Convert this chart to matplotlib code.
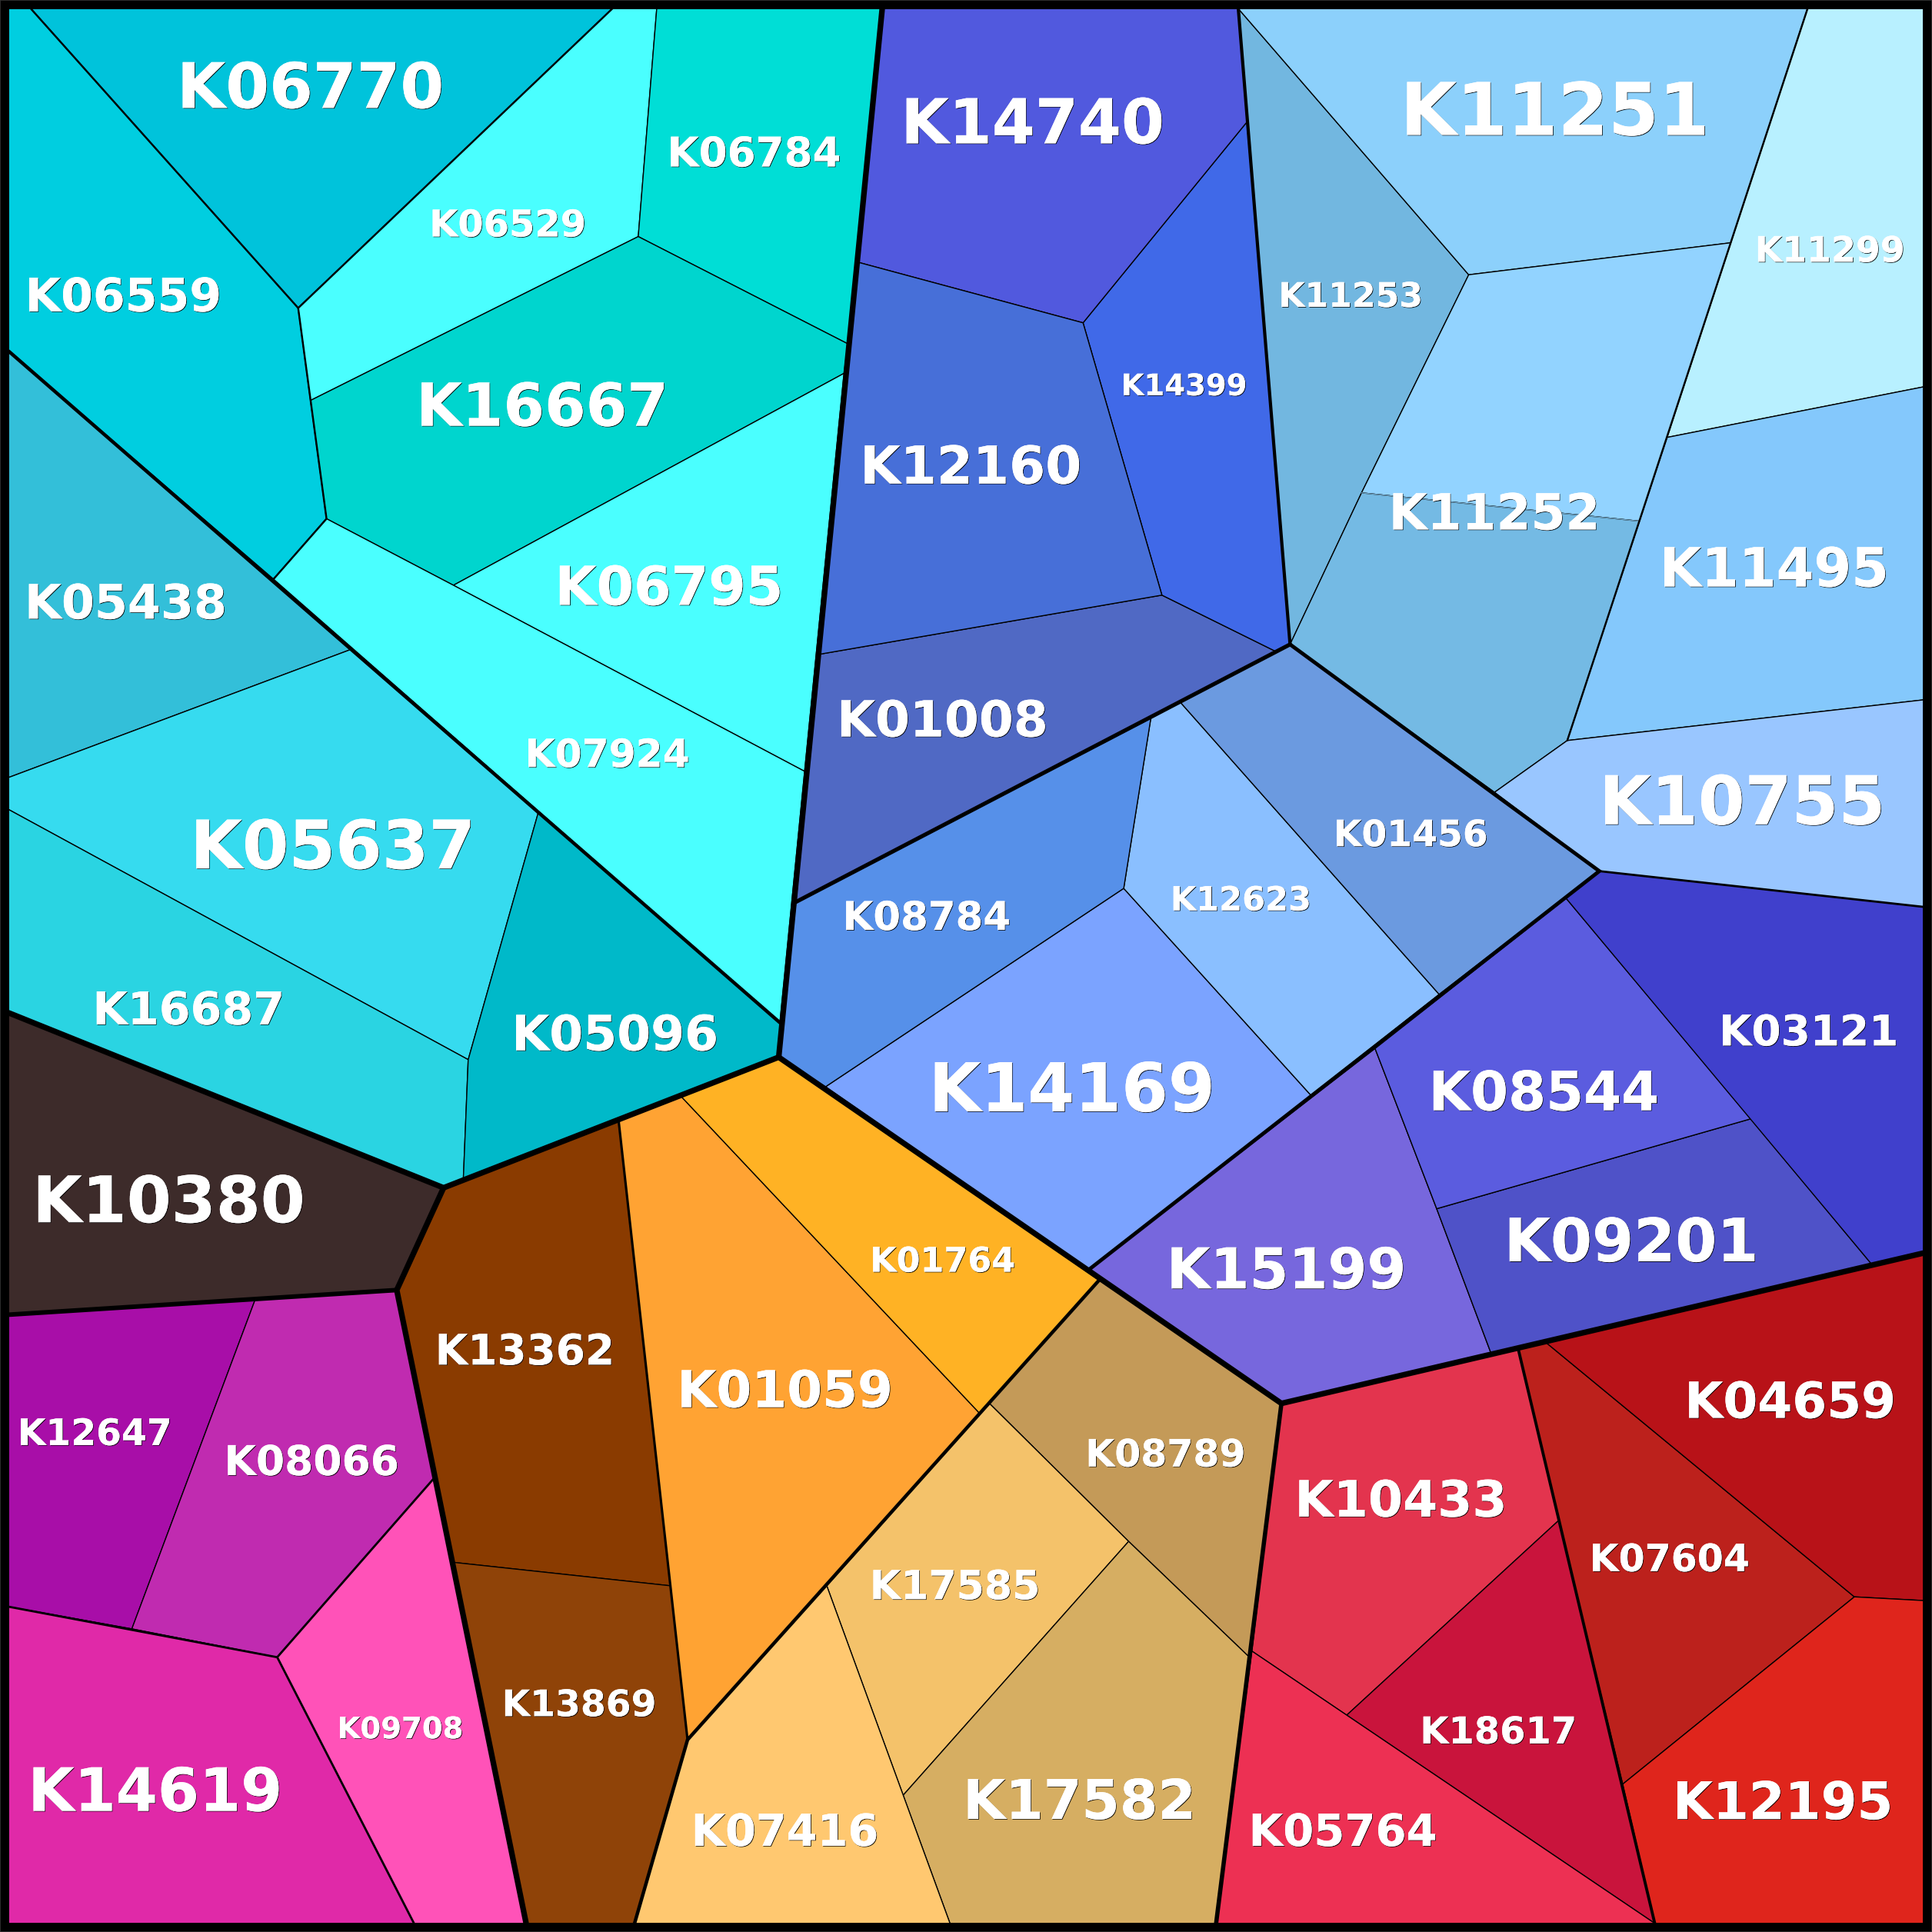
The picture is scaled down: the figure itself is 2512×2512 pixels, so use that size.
import matplotlib
matplotlib.use('Agg')
import matplotlib.pyplot as plt
import matplotlib.patheffects as pe
from matplotlib.patches import Polygon, Rectangle

# all coordinates, in a 1568 x 1568 frame, y downwards
cells = {
    'K06770': [(25, 7), (497, 7), (242, 250)],
    'K06559': [(7, 7), (25, 7), (242, 250), (265, 421), (222, 470), (7, 285)],
    'K06529': [(497, 7), (533, 7), (518, 192), (252, 325), (242, 250)],
    'K06784': [(533, 7), (716, 7), (688, 279), (518, 192)],
    'K16667': [(518, 192), (688, 279), (685, 303), (368, 475), (265, 421), (252, 325)],
    'K06795': [(685, 303), (653, 626), (368, 475)],
    'K07924': [(265, 421), (368, 475), (653, 626), (633, 830), (222, 470)],
    'K05438': [(7, 285), (285, 527), (7, 631)],
    'K05637': [(7, 631), (285, 527), (437, 659), (380, 860), (7, 657)],
    'K16687': [(7, 657), (380, 860), (376, 958), (360, 964), (7, 822)],
    'K05096': [(437, 659), (633, 830), (632, 858), (376, 958), (380, 860)],
    'K10380': [(7, 822), (360, 964), (322, 1047), (7, 1067)],
    'K12647': [(7, 1067), (207, 1055), (107, 1322), (7, 1304)],
    'K08066': [(207, 1055), (322, 1047), (352, 1200), (225, 1345), (107, 1322)],
    'K09708': [(352, 1200), (427, 1561), (336, 1561), (225, 1345)],
    'K14619': [(7, 1304), (107, 1322), (225, 1345), (336, 1561), (7, 1561)],
    'K13362': [(322, 1047), (360, 964), (502, 909), (544, 1287), (368, 1268)],
    'K13869': [(368, 1268), (544, 1287), (558, 1412), (515, 1561), (427, 1561)],
    'K01059': [(502, 909), (552, 889), (795, 1147), (558, 1412)],
    'K01764': [(552, 889), (632, 858), (892, 1039), (795, 1147)],
    'K08789': [(892, 1039), (1040, 1139), (1014, 1345), (916, 1251), (803, 1139)],
    'K17585': [(803, 1139), (916, 1251), (733, 1457), (671, 1287)],
    'K17582': [(916, 1251), (1014, 1345), (987, 1561), (771, 1561), (733, 1457)],
    'K07416': [(671, 1287), (771, 1561), (515, 1561), (558, 1412)],
    'K10433': [(1040, 1139), (1232, 1094), (1265, 1234), (1093, 1392), (1016, 1340)],
    'K18617': [(1265, 1234), (1317, 1448), (1343, 1561), (1093, 1392)],
    'K05764': [(1016, 1340), (1093, 1392), (1343, 1561), (987, 1561)],
    'K07604': [(1232, 1094), (1254, 1089), (1505, 1296), (1317, 1448), (1265, 1234)],
    'K04659': [(1254, 1089), (1561, 1017), (1561, 1299), (1505, 1296)],
    'K12195': [(1505, 1296), (1561, 1299), (1561, 1561), (1343, 1561), (1317, 1448)],
    'K15199': [(883, 1031), (1116, 851), (1166, 981), (1210, 1098), (1040, 1139)],
    'K09201': [(1166, 981), (1421, 908), (1519, 1026), (1210, 1098)],
    'K08544': [(1116, 851), (1271, 729), (1421, 908), (1166, 981)],
    'K03121': [(1298, 707), (1561, 736), (1561, 1017), (1519, 1026), (1271, 729)],
    'K14169': [(670, 882), (912, 721), (1064, 889), (883, 1031)],
    'K12623': [(912, 721), (934, 583), (958, 570), (1168, 807), (1064, 889)],
    'K01456': [(958, 570), (1047, 523), (1298, 707), (1168, 807)],
    'K08784': [(646, 732), (934, 583), (912, 721), (670, 882), (632, 858)],
    'K01008': [(665, 531), (943, 483), (1036, 529), (646, 732)],
    'K14399': [(1012, 99), (1047, 523), (1036, 529), (943, 483), (879, 262)],
    'K14740': [(716, 7), (1005, 7), (1012, 99), (879, 262), (697, 213)],
    'K12160': [(697, 213), (879, 262), (943, 483), (665, 531)],
    'K11253': [(1005, 7), (1192, 223), (1105, 400), (1047, 523)],
    'K11251': [(1005, 7), (1467, 7), (1405, 197), (1192, 223)],
    'K11252': [(1192, 223), (1405, 197), (1331, 423), (1105, 400)],
    'K11252_low': [(1105, 400), (1331, 423), (1272, 601), (1213, 643), (1047, 523)],
    'K11299': [(1467, 7), (1561, 7), (1561, 314), (1353, 355)],
    'K11495': [(1353, 355), (1561, 314), (1561, 568), (1272, 601)],
    'K10755': [(1213, 643), (1272, 601), (1561, 568), (1561, 736), (1298, 707)],
}

colors = {
    'K06770': '#00C3DB', 'K06559': '#00CEE0', 'K06529': '#4AFFFF', 'K06784': '#00DED6',
    'K16667': '#00D5CE', 'K06795': '#4AFFFF', 'K07924': '#4AFFFF', 'K05438': '#33BFD9',
    'K05637': '#36DBEF', 'K16687': '#2AD4E2', 'K05096': '#00B9C9', 'K10380': '#3D2B2A',
    'K12647': '#A80EA8', 'K08066': '#C02BB0', 'K09708': '#FF52B8', 'K14619': '#E029A8',
    'K13362': '#8A3B00', 'K13869': '#8F4308', 'K01059': '#FFA333', 'K01764': '#FFB224',
    'K08789': '#C49A58', 'K17585': '#F4C26A', 'K17582': '#D6AE62', 'K07416': '#FFC870',
    'K10433': '#E3344E', 'K18617': '#C9143C', 'K05764': '#ED3053', 'K07604': '#BC211C',
    'K04659': '#B81218', 'K12195': '#DF251C', 'K15199': '#7767DD', 'K09201': '#4F52C8',
    'K08544': '#5B5CDF', 'K03121': '#4040CC', 'K14169': '#7BA3FF', 'K12623': '#8ABFFF',
    'K01456': '#6B9AE0', 'K08784': '#5690E9', 'K01008': '#5069C4', 'K14399': '#4069E8',
    'K14740': '#5159DE', 'K12160': '#476FD8', 'K11253': '#72B7E0', 'K11251': '#8CD0FB',
    'K11252': '#92D3FF', 'K11252_low': '#74BAE4', 'K11299': '#B8F0FF', 'K11495': '#84C8FC',
    'K10755': '#99C6FF',
}

# label centre x, centre y, font size
labels = {
    'K06770': (252, 69, 23.5), 'K06529': (412, 181, 13.8), 'K06784': (612, 123, 15.3),
    'K06559': (100, 239, 17.3), 'K16667': (440, 328, 22.2), 'K06795': (543, 475, 20.1),
    'K07924': (493, 611, 14.5), 'K05438': (102, 488, 17.8), 'K05637': (270, 685, 25.1),
    'K16687': (153, 818, 16.9), 'K05096': (499, 838, 18.2), 'K10380': (137, 973, 24),
    'K12647': (77, 1162, 13.6), 'K08066': (253, 1185, 15.4), 'K09708': (325, 1402, 11.1),
    'K14619': (126, 1452, 22.4), 'K13362': (426, 1095, 15.8), 'K13869': (470, 1382, 13.6),
    'K01059': (637, 1127, 19), 'K01764': (765, 1022, 12.8), 'K08789': (946, 1179, 14.1),
    'K17585': (775, 1286, 15), 'K17582': (876, 1460, 20.5), 'K07416': (637, 1485, 16.5),
    'K10433': (1137, 1216, 18.7), 'K18617': (1216, 1404, 13.8), 'K05764': (1090, 1485, 16.6),
    'K07604': (1355, 1264, 14.1), 'K04659': (1453, 1136, 18.6), 'K12195': (1447, 1461, 19.4),
    'K15199': (1044, 1029, 21.1), 'K09201': (1324, 1006, 22.4), 'K08544': (1253, 885, 20.3),
    'K03121': (1468, 836, 15.8), 'K14169': (870, 882, 25.2), 'K12623': (1007, 729, 12.4),
    'K01456': (1145, 676, 13.6), 'K08784': (752, 743, 14.8), 'K01008': (765, 583, 18.6),
    'K14399': (961, 312, 11.1), 'K14740': (838, 98, 23.2), 'K12160': (788, 377, 19.5),
    'K11253': (1096, 239, 12.7), 'K11251': (1262, 88, 27.2), 'K11252': (1213, 415, 18.6),
    'K11299': (1485, 202, 13.2), 'K11495': (1440, 460, 20.2), 'K10755': (1414, 649, 25.2),
}

# heavier group boundaries drawn over the cells: (line width, points)
boundaries = [
    (2.1, [(7, 822), (360, 964), (632, 858), (1040, 1139), (1561, 1017)]),
    (2.1, [(716, 7), (632, 858)]),
    (2.1, [(360, 964), (322, 1047), (427, 1561)]),
    (1.7, [(322, 1047), (7, 1067)]),
    (1.6, [(1040, 1139), (987, 1561)]),
    (1.3, [(7, 285), (633, 830)]),
    (1.2, [(1005, 7), (1047, 523)]),
    (1.5, [(1047, 523), (646, 732)]),
    (1.4, [(1047, 523), (1298, 707), (883, 1031)]),
    (1.3, [(892, 1039), (558, 1412), (515, 1561)]),
    (0.9, [(502, 909), (558, 1412)]),
    (1.1, [(1232, 1094), (1343, 1561)]),
    (0.8, [(225, 1345), (352, 1200)]),
    (0.8, [(7, 1304), (225, 1345), (336, 1561)]),
    (0.7, [(25, 7), (242, 250), (265, 421), (222, 470)]),
    (0.7, [(497, 7), (242, 250)]),
    (0.8, [(1298, 707), (1561, 736)]),
    (0.7, [(1272, 601), (1467, 7)]),
]

fig = plt.figure(figsize=(10.048, 10.048), dpi=250, facecolor='black')
ax = fig.add_axes([0, 0, 1, 1])
ax.set_xlim(0, 1568)
ax.set_ylim(1568, 0)
ax.set_facecolor('black')
ax.axis('off')

for name, pts in cells.items():
    ax.add_patch(Polygon(pts, closed=True, facecolor=colors[name],
                         edgecolor='black', linewidth=0.4))

# the split inside K11252 is only a faint line
ax.plot([1105, 1331], [400, 423], color='#6A9CBA', lw=0.4, zorder=2)

for lw, pts in boundaries:
    ax.plot([p[0] for p in pts], [p[1] for p in pts], color='black', lw=lw,
            solid_capstyle='round', solid_joinstyle='miter', zorder=3)

# thin grey rim right at the image edge
ax.add_patch(Rectangle((0, 0), 1568, 1568, fill=False, edgecolor='#333333', lw=0.5, zorder=4))

for name, (x, y, size) in labels.items():
    # baseline sits half a cap height below the centre
    ax.text(x, y + 0.79 * size, name, color='white', fontsize=size, fontweight='bold',
            family='DejaVu Sans', ha='center', va='baseline', zorder=5,
            path_effects=[pe.withSimplePatchShadow(offset=(0.25, -0.25), shadow_rgbFace='black', alpha=0.9), pe.Normal()])

fig.savefig('out.png', dpi=250, facecolor='black')
